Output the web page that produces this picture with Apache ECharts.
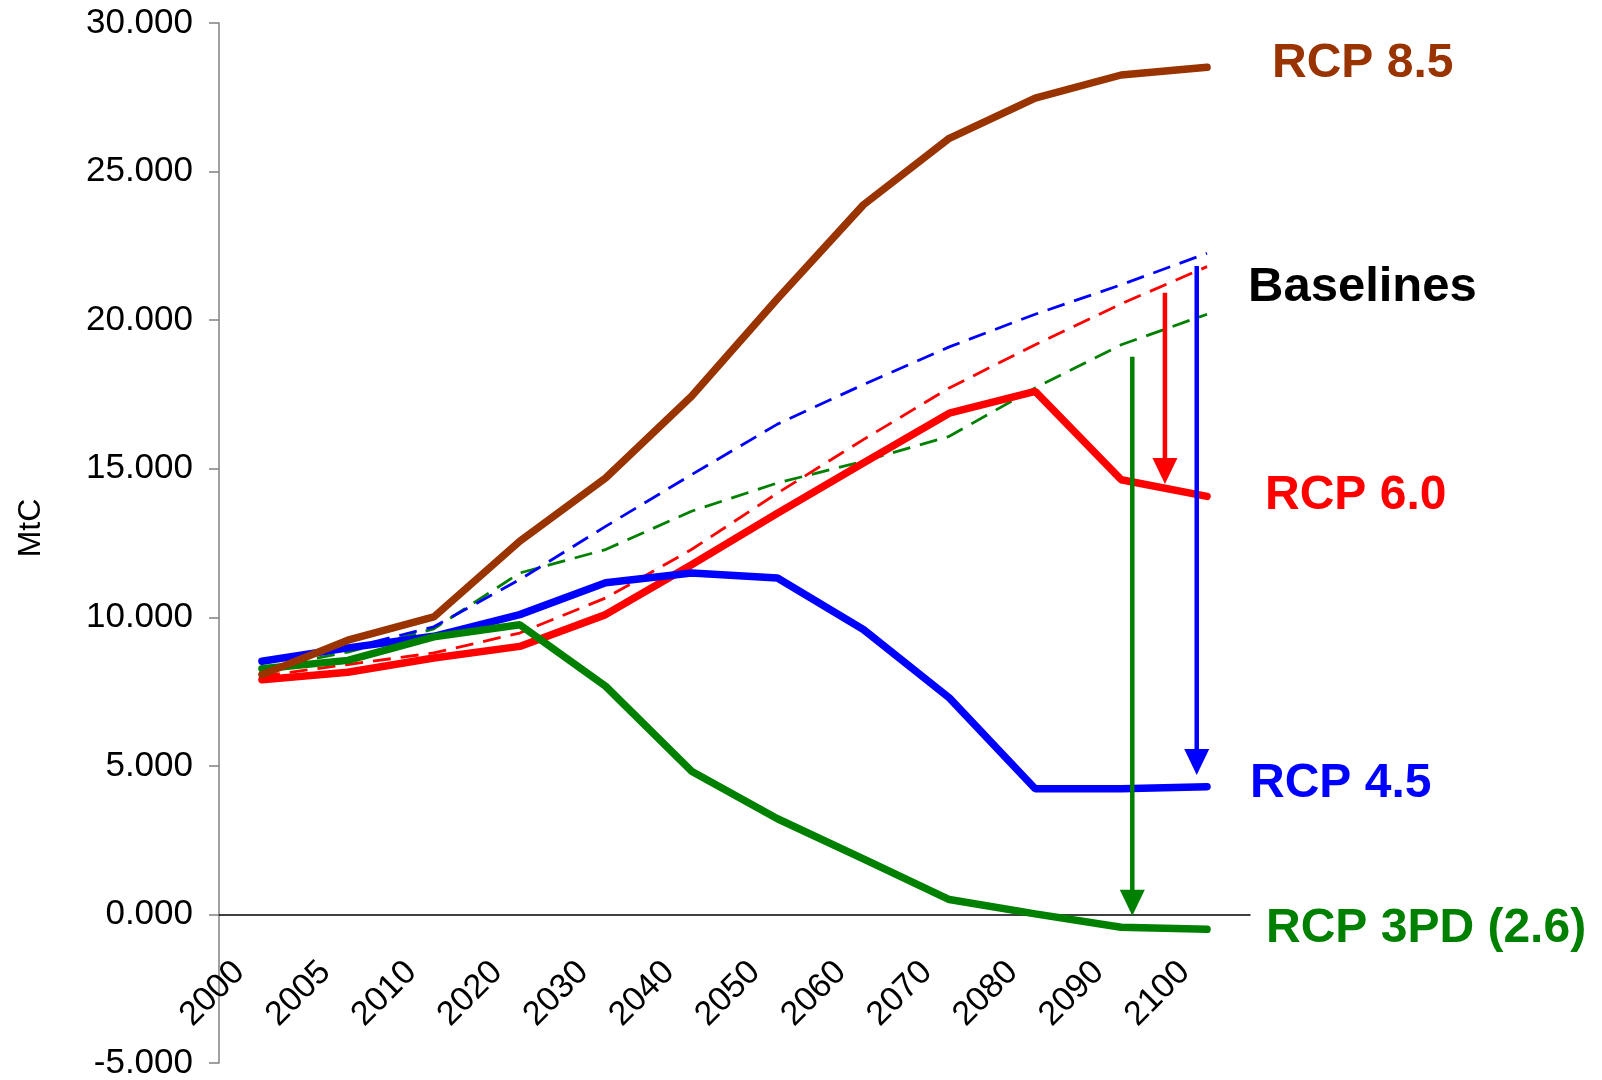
<!DOCTYPE html>
<html>
<head>
<meta charset="utf-8">
<script src="https://cdn.jsdelivr.net/npm/echarts@6/dist/echarts.min.js"></script>
<style>
  html, body { margin: 0; padding: 0; background: #fff; }
  #chart { width: 1602px; height: 1080px; }
</style>
</head>
<body>
<div id="chart"></div>
<script>
// values in thousands of MtC
const years = ['2000', '2005', '2010', '2020', '2030', '2040', '2050', '2060', '2070', '2080', '2090', '2100']

const rcp85 = [8.07, 9.23, 10.01, 12.56, 14.69, 17.44, 20.72, 23.88, 26.12, 27.47, 28.25, 28.51]
const rcp60 = [7.90, 8.15, 8.63, 9.02, 10.09, 11.77, 13.50, 15.19, 16.87, 17.60, 14.63, 14.07]
const rcp45 = [8.52, 8.97, 9.36, 10.09, 11.16, 11.49, 11.32, 9.59, 7.29, 4.23, 4.23, 4.30]
const rcp26 = [8.27, 8.55, 9.34, 9.75, 7.68, 4.82, 3.22, 1.87, 0.50, 0.02, -0.43, -0.50]

// baselines (dashed)
const base60 = [8.02, 8.41, 8.80, 9.47, 10.65, 12.28, 14.18, 15.98, 17.72, 19.17, 20.55, 21.80]
const base45 = [8.50, 8.95, 9.68, 11.27, 13.06, 14.80, 16.50, 17.83, 19.10, 20.20, 21.19, 22.25]
const base26 = [8.27, 8.83, 9.61, 11.49, 12.28, 13.57, 14.52, 15.25, 16.09, 17.72, 19.17, 20.20]

// mitigation arrows: position in category units, start and end value
const arrowColors = ['#ff0000', '#0000ff', '#008000']
const arrowX = [10.51, 10.88, 10.13]
const arrowFrom = [20.92, 21.82, 18.77]
const arrowTo = [14.92, 5.13, 0.39]

const yMin = -5
const yMax = 30
const gridTop = 23
const gridBottom = 17
const plotHeight = 1080 - gridTop - gridBottom
// category axis sits on the zero line, not at the grid bottom
const zeroOffset = -plotHeight * (0 - yMin) / (yMax - yMin)

const font = '"Liberation Sans", Arial, sans-serif'

const solid = (name, data, color, dy, dist) => ({
  name,
  type: 'line',
  data,
  symbol: 'none',
  lineStyle: { color, width: 7.5, cap: 'round' },
  endLabel: {
    show: true,
    formatter: name,
    color,
    fontFamily: font,
    fontSize: 48,
    fontWeight: 'bold',
    distance: dist,
    offset: [0, dy]
  },
  z: 3
})

const dashed = (data, color) => ({
  type: 'line',
  data,
  symbol: 'none',
  lineStyle: { color, width: 2.8, type: [18, 10] },
  z: 2
})

const arrows = arrowX.map((x, i) => ({
  type: 'line',
  xAxisIndex: 1,
  data: [
    { value: [x, arrowFrom[i]], symbol: 'none' },
    { value: [x, arrowTo[i]], symbol: 'triangle', symbolSize: [25, 26], symbolRotate: 180 }
  ],
  showSymbol: true,
  itemStyle: { color: arrowColors[i] },
  lineStyle: { color: arrowColors[i], width: 4.5 },
  z: 5
}))

const chart = echarts.init(document.getElementById('chart'))
chart.setOption({
  animation: false,
  backgroundColor: '#fff',
  grid: {
    left: 219,
    right: 352,
    top: gridTop,
    bottom: gridBottom,
    containLabel: false,
    outerBoundsMode: 'none'
  },
  xAxis: [
    {
      type: 'category',
      data: years,
      boundaryGap: true,
      offset: zeroOffset,
      axisLine: { onZero: false, lineStyle: { color: '#000', width: 1.5 } },
      axisTick: { alignWithLabel: false, length: 10, lineStyle: { color: '#808080', width: 1.5 } },
      axisLabel: {
        interval: 0,
        rotate: 45,
        margin: 30,
        padding: [0, 32, 0, 0],
        color: '#000',
        fontFamily: font,
        fontSize: 34
      },
      splitLine: { show: false }
    },
    { type: 'value', min: -0.5, max: 11.5, show: false }
  ],
  yAxis: {
    type: 'value',
    min: yMin,
    max: yMax,
    interval: 5,
    axisLine: { show: true, onZero: false, lineStyle: { color: '#808080', width: 1.5 } },
    axisTick: { show: true, length: 10, lineStyle: { color: '#808080', width: 1.5 } },
    axisLabel: {
      margin: 26,
      color: '#000',
      fontFamily: font,
      fontSize: 35,
      formatter: v => v.toFixed(3)
    },
    splitLine: { show: false }
  },
  graphic: [
    {
      type: 'text',
      x: 31,
      y: 528,
      rotation: Math.PI / 2,
      style: { text: 'MtC', fill: '#000', font: '32px ' + font, textAlign: 'center', textVerticalAlign: 'middle' }
    },
    {
      type: 'text',
      left: 1248,
      top: 263,
      style: { text: 'Baselines', fill: '#000', font: 'bold 49px ' + font }
    }
  ],
  series: [
    dashed(base26, '#008000'),
    dashed(base60, '#ff0000'),
    dashed(base45, '#0000ff'),
    solid('RCP 6.0', rcp60, '#ff0000', -1, 58),
    solid('RCP 4.5', rcp45, '#0000ff', -3, 43),
    solid('RCP 3PD (2.6)', rcp26, '#008000', -1, 59),
    solid('RCP 8.5', rcp85, '#993300', -4, 65),
    ...arrows
  ]
})
</script>
</body>
</html>
